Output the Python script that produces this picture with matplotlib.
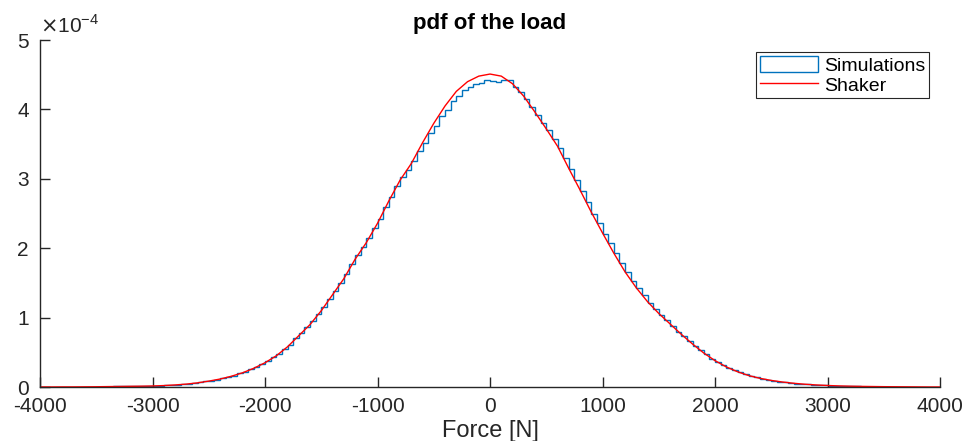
import matplotlib.pyplot as plt
import numpy as np
from matplotlib.patches import Patch
from matplotlib.lines import Line2D

plt.rcParams['font.family'] = ['Liberation Sans', 'DejaVu Sans']
plt.rcParams['axes.unicode_minus'] = False

# histogram of simulated load (pdf, units of 1e-4), 50 N bins from -3500 to 3500
bin_edges = np.arange(-3500, 3501, 50)
sim_pdf = [
    0.004, 0.005, 0.006, 0.008, 0.008, 0.010, 0.011, 0.012, 0.013, 0.015,
    0.017, 0.020, 0.023, 0.028, 0.033, 0.040, 0.046, 0.056, 0.066, 0.080,
    0.092, 0.108, 0.124, 0.148, 0.166, 0.196, 0.222, 0.258, 0.290, 0.335,
    0.372, 0.428, 0.478, 0.552, 0.612, 0.700, 0.780, 0.862, 0.950, 1.050,
    1.150, 1.272, 1.385, 1.505, 1.630, 1.775, 1.900, 2.020, 2.150, 2.290,
    2.420, 2.590, 2.740, 2.890, 3.020, 3.130, 3.250, 3.400, 3.520, 3.660,
    3.760, 3.900, 3.990, 4.120, 4.200, 4.280, 4.320, 4.360, 4.380, 4.420,
    4.410, 4.400, 4.430, 4.420, 4.330, 4.250, 4.150, 4.030, 3.920, 3.810,
    3.700, 3.580, 3.440, 3.300, 3.140, 2.980, 2.820, 2.660, 2.500, 2.360,
    2.200, 2.070, 1.930, 1.790, 1.660, 1.530, 1.420, 1.320, 1.210, 1.130,
    1.040, 0.960, 0.880, 0.800, 0.730, 0.660, 0.590, 0.530, 0.470, 0.410,
    0.365, 0.322, 0.280, 0.245, 0.212, 0.185, 0.160, 0.140, 0.120, 0.104,
    0.090, 0.078, 0.067, 0.058, 0.050, 0.043, 0.037, 0.032, 0.027, 0.023,
    0.020, 0.017, 0.014, 0.012, 0.010, 0.009, 0.007, 0.006, 0.005, 0.004,
]

# shaker pdf (units of 1e-4), every 100 N from -4000 to 4000
shaker_x = np.arange(-4000, 4001, 100)
shaker_pdf = [
    0.001, 0.001, 0.002, 0.002, 0.003, 0.004, 0.006, 0.008, 0.010, 0.012,
    0.015, 0.021, 0.030, 0.042, 0.060, 0.085, 0.115, 0.155, 0.205, 0.270,
    0.350, 0.450, 0.580, 0.740, 0.900, 1.100, 1.330, 1.560, 1.840, 2.080,
    2.360, 2.680, 2.980, 3.220, 3.520, 3.800, 4.050, 4.260, 4.400, 4.480,
    4.510, 4.480, 4.370, 4.190, 3.960, 3.720, 3.470, 3.150, 2.840, 2.520,
    2.220, 1.930, 1.660, 1.430, 1.230, 1.060, 0.910, 0.760, 0.620, 0.490,
    0.380, 0.290, 0.220, 0.165, 0.125, 0.095, 0.072, 0.054, 0.040, 0.030,
    0.022, 0.016, 0.012, 0.009, 0.007, 0.005, 0.004, 0.003, 0.002, 0.001,
    0.001,
]

blue = (0.0, 0.447, 0.741)
dark = '#262626'

fig = plt.figure(figsize=(9.72, 4.41), dpi=100)
ax = fig.add_axes([0.0412, 0.1224, 0.9259, 0.7868])

ax.stairs(sim_pdf, bin_edges, color=blue, linewidth=1.0)
ax.plot(shaker_x, shaker_pdf, color='red', linewidth=1.0)

ax.set_xlim(-4000, 4000)
ax.set_ylim(0, 5)
ax.set_xticks(np.arange(-4000, 4001, 1000))
ax.set_yticks(np.arange(0, 6, 1))
ax.spines['top'].set_visible(False)
ax.spines['right'].set_visible(False)
for s in ['left', 'bottom']:
    ax.spines[s].set_color(dark)
    ax.spines[s].set_linewidth(1.0)
ax.tick_params(direction='in', length=7, width=1, colors=dark, labelsize=15)
ax.tick_params(axis='x', pad=7)
ax.tick_params(axis='y', pad=8)

ax.text(0.0, 1.01, r'$\times$10$^{\mathregular{-4}}$', transform=ax.transAxes,
        fontsize=15, ha='left', va='bottom', color=dark)

ax.set_title('pdf of the load', fontsize=16, fontweight='bold', pad=8)
ax.set_xlabel('Force [N]', fontsize=17, color=dark, labelpad=3)

handles = [Patch(facecolor='white', edgecolor=blue, linewidth=1.0),
           Line2D([], [], color='red', linewidth=1.0)]
leg = ax.legend(handles, ['Simulations', 'Shaker'], loc='upper right',
                bbox_to_anchor=(0.988, 0.965), fontsize=14,
                fancybox=False, framealpha=1, edgecolor=dark,
                borderpad=0.2, handlelength=3.0, handleheight=0.9,
                handletextpad=0.3, labelspacing=0.05, borderaxespad=0)
leg.get_frame().set_linewidth(0.8)

fig.savefig('out.png', dpi=100)
